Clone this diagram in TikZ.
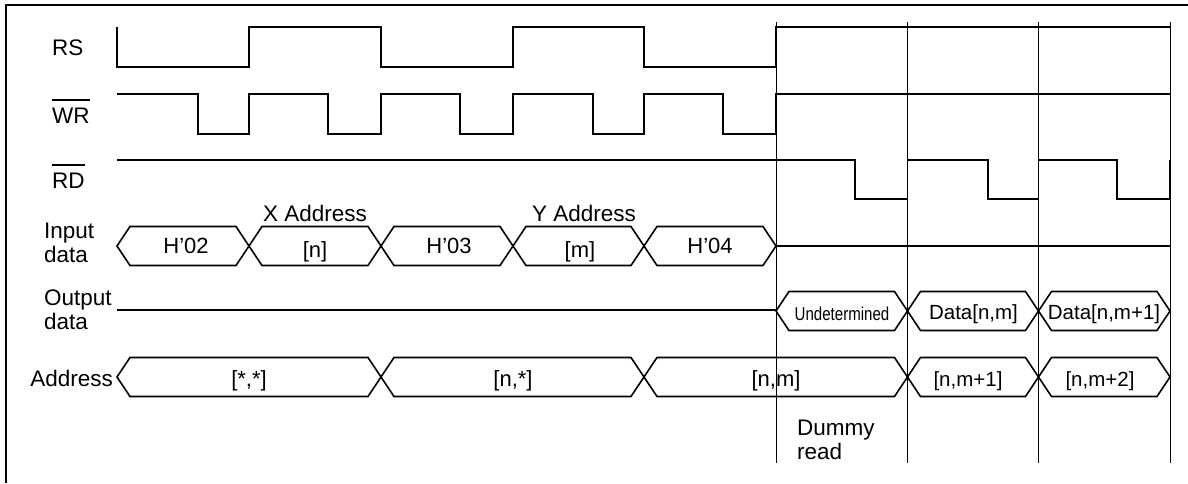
\documentclass[tikz,border=0pt]{standalone}
\usepackage{fontspec}
\setmainfont{Liberation Sans}
\usepackage{graphicx}
\newcommand\ovl[1]{\sbox0{#1}\rlap{\rule[22.5pt]{\wd0}{1.1pt}}\usebox0}
\newcommand\sigtxt[1]{\fontsize{22.5}{24}\selectfont #1}
\newcommand\hexbus[3]{\draw[bus] (#1,#3) -- ({#1+13},{#3-19.5}) -- ({#2-13},{#3-19.5}) -- (#2,#3) -- ({#2-13},{#3+19.5}) -- ({#1+13},{#3+19.5}) -- cycle;}
\begin{document}
\begin{tikzpicture}[x=1pt,y=-1pt,
  wave/.style={line width=1.6pt, line join=miter},
  guide/.style={line width=0.9pt},
  bus/.style={line width=1.6pt, line join=miter},
  frame/.style={line width=1.6pt},
  lbl/.style={inner sep=0pt, anchor=base west, font=\fontsize{22.5}{24}\selectfont},
  ctr/.style={inner sep=0pt, anchor=base, font=\fontsize{22}{24}\selectfont},
  sml/.style={inner sep=0pt, anchor=base, font=\fontsize{20.5}{22}\selectfont}]
\useasboundingbox (0,0) rectangle (1188,483);
% frame
\draw[frame] (6,483) -- (6,5) -- (1188,5);
% guides
\foreach \gx in {776,907.5,1038.5,1170}
  \draw[guide] (\gx,22) -- (\gx,463);
% RS
\draw[wave] (117,27) -- (117,67) -- (249,67) -- (249,27) -- (381,27) -- (381,67) -- (513,67) -- (513,27) -- (644,27) -- (644,67) -- (776,67) -- (776,27) -- (1170,27);
% WR
\draw[wave] (117,94) -- (198,94) -- (198,134) -- (249,134) -- (249,94) -- (328,94) -- (328,134) -- (381,134) -- (381,94) -- (460,94) -- (460,134) -- (513,134) -- (513,94) -- (593,94) -- (593,134) -- (644,134) -- (644,94) -- (723,94) -- (723,134) -- (776,134) -- (776,94) -- (1170,94);
% RD
\draw[wave] (117,160) -- (855,160) -- (855,199) -- (907.5,199) -- (907.5,160) -- (988,160) -- (988,199) -- (1038.5,199) -- (1038.5,160) -- (1117,160) -- (1117,199) -- (1170,199) -- (1170,160);
% input data bus
\hexbus{117}{249}{246}
\hexbus{249}{381}{246}
\hexbus{381}{513}{246}
\hexbus{513}{644}{246}
\hexbus{644}{776}{246}
\draw[bus] (776,246) -- (1170,246);
% output data bus
\draw[bus] (117,310) -- (776,310);
\hexbus{776}{907.5}{311}
\hexbus{907.5}{1038.5}{311}
\hexbus{1038.5}{1170}{311}
% address bus
\hexbus{117}{381}{377}
\hexbus{381}{644}{377}
\hexbus{644}{907.5}{377}
\hexbus{907.5}{1038.5}{377}
\hexbus{1038.5}{1170}{377}
% signal names
\node[lbl] (rs) at (52,55) {\sigtxt{RS}};
\node[lbl] (wr) at (52,123) {\sigtxt{\ovl{WR}}};
\node[lbl] (rd) at (52,188) {\sigtxt{\ovl{RD}}};
\node[lbl] (in1) at (44,238) {Input};
\node[lbl] (in2) at (44,262) {data};
\node[lbl] (out1) at (44,305) {Output};
\node[lbl] (out2) at (44,329) {data};
\node[lbl, anchor=base east] (addr) at (113,386) {Address};
\node[ctr, font=\fontsize{22.5}{24}\selectfont] (xa) at (315,221) {X Address};
\node[ctr, font=\fontsize{22.5}{24}\selectfont] (ya) at (584,221) {Y Address};
% input data values
\node[ctr] (h02) at (186,253) {H’02};
\node[ctr] (dn) at (315,257) {[n]};
\node[ctr] (h03) at (449,253) {H’03};
\node[ctr] (dm) at (580,257) {[m]};
\node[ctr] (h04) at (710,253) {H’04};
% output data values
\node[inner sep=0pt, anchor=base, font=\fontsize{18.6}{20}\selectfont] (und) at (842,320) {\scalebox{0.81}[1]{Undetermined}};
\node[sml] (d1) at (973.5,319) {Data[n,m]};
\node[sml] (d2) at (1104,319) {Data[n,m+1]};
% address values
\node[ctr] (a1) at (249,386) {[*,*]};
\node[ctr] (a2) at (513,386) {[n,*]};
\node[ctr] (a3) at (776,386) {[n,m]};
\node[sml] (a4) at (968,386) {[n,m+1]};
\node[sml] (a5) at (1100,386) {[n,m+2]};
% dummy read
\node[lbl] (dum1) at (797,435) {Dummy};
\node[lbl] (dum2) at (797,459) {read};
\end{tikzpicture}
\end{document}
